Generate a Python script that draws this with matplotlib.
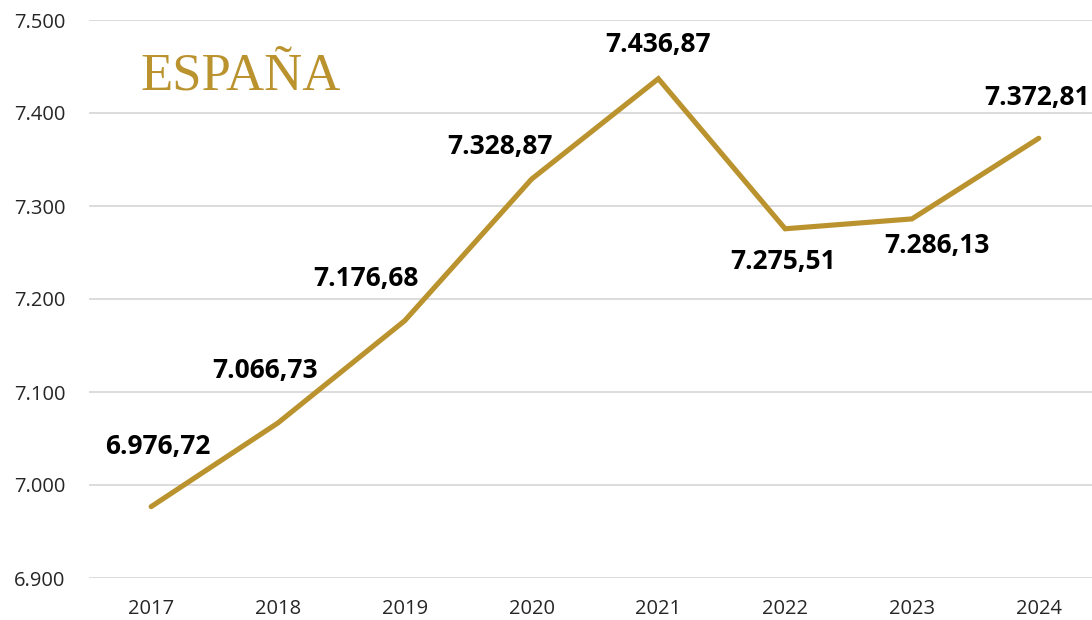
import matplotlib
matplotlib.use("Agg")
import matplotlib.pyplot as plt
from matplotlib.ticker import FuncFormatter

years = ["2017", "2018", "2019", "2020", "2021", "2022", "2023", "2024"]
values = [6976.72, 7066.73, 7176.68, 7328.87, 7436.87, 7275.51, 7286.13, 7372.81]
yticks = [6900, 7000, 7100, 7200, 7300, 7400, 7500]
title = "ESPAÑA"

# label offsets in pixels (styling)
offsets = [(7, 60), (-13, 52), (-39, 42), (-32, 33), (0, 34), (-2, -33), (25, -27), (-2, 41)]

GOLD = "#BA932F"

def es_fmt(v, dec):
    s = f"{v:,.{dec}f}"
    return s.replace(",", "X").replace(".", ",").replace("X", ".")

fig = plt.figure(figsize=(10.92, 6.2), dpi=100)
ax = fig.add_axes([89/1092, 42/620, 1 - 89/1092, (578-20)/620])

x = list(range(len(years)))
ax.plot(x, values, color=GOLD, lw=3.7, solid_capstyle="round", solid_joinstyle="miter", zorder=3)

for xi, v, (dx, dy) in zip(x, values, offsets):
    ax.annotate(es_fmt(v, 2), (xi, v), xytext=(dx, dy), textcoords="offset pixels",
                ha="center", va="center", fontsize=19, fontweight="bold",
                family="Open Sans", color="black", zorder=4)

ax.set_ylim(6900, 7500)
ax.set_yticks(yticks)
ax.yaxis.set_major_formatter(FuncFormatter(lambda v, p: es_fmt(v, 0)))
ax.set_xlim(-0.49, 7.42)
ax.set_xticks(x)
ax.set_xticklabels(years)

ax.grid(axis="y", color="#D9D9D9", lw=1.3)
ax.set_axisbelow(True)
for s in ax.spines.values():
    s.set_visible(False)
ax.tick_params(axis="both", length=0, labelsize=14.5, colors="#262626")
ax.tick_params(axis="y", pad=17)
ax.tick_params(axis="x", pad=15)
for lab in ax.get_xticklabels() + ax.get_yticklabels():
    lab.set_family("Open Sans")

fig.text(140/1092, (620-90)/620, title, family="Liberation Serif", fontsize=38,
         color=GOLD, ha="left", va="baseline")

fig.savefig("out.png", dpi=100)
